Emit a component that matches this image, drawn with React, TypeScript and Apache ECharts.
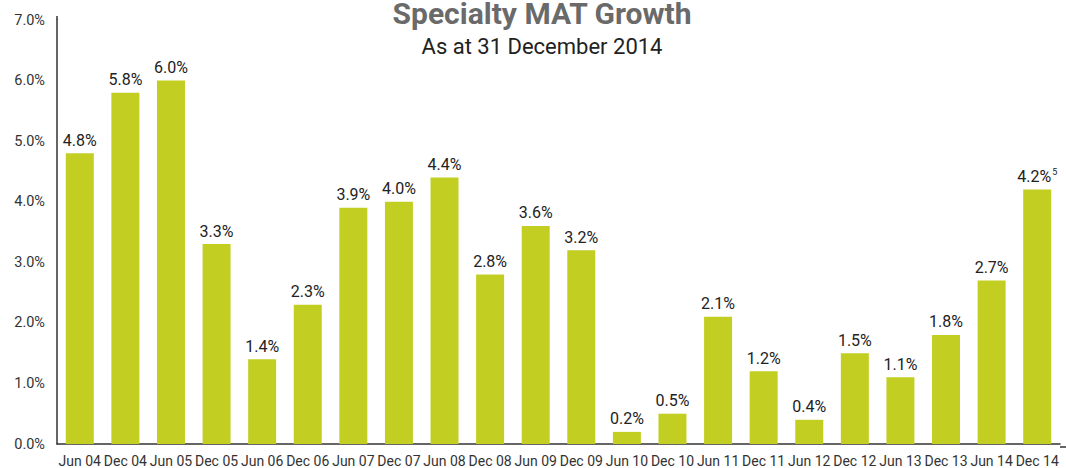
import React, { useEffect, useRef } from "react";
import * as echarts from "echarts";

const categories = [
  "Jun 04", "Dec 04", "Jun 05", "Dec 05", "Jun 06", "Dec 06", "Jun 07", "Dec 07",
  "Jun 08", "Dec 08", "Jun 09", "Dec 09", "Jun 10", "Dec 10", "Jun 11", "Dec 11",
  "Jun 12", "Dec 12", "Jun 13", "Dec 13", "Jun 14", "Dec 14",
];
const growth = [4.8, 5.8, 6.0, 3.3, 1.4, 2.3, 3.9, 4.0, 4.4, 2.8, 3.6, 3.2, 0.2, 0.5, 2.1, 1.2, 0.4, 1.5, 1.1, 1.8, 2.7, 4.2];
const footnotes: Record<number, string> = { 21: "5" };
const yTicks = [0, 1, 2, 3, 4, 5, 6, 7];
const titleText = "Specialty MAT Growth";
const subtitleText = "As at 31 December 2014";

const FONT = "Roboto, 'DejaVu Sans', sans-serif";

export default function App() {
  const ref = useRef<HTMLDivElement>(null);
  useEffect(() => {
    if (!ref.current) return;
    const chart = echarts.init(ref.current, null, { renderer: "svg" });
    chart.setOption({
      animation: false,
      textStyle: { fontFamily: FONT },
      grid: { left: 57, right: 6, top: 20, bottom: 21, containLabel: false },
      xAxis: {
        type: "category",
        data: categories,
        axisLine: { lineStyle: { color: "#333", width: 1.5 } },
        axisTick: { show: false },
        axisLabel: { color: "#333", fontSize: 14, margin: 10, interval: 0, fontFamily: FONT },
      },
      yAxis: {
        type: "value",
        min: yTicks[0],
        max: yTicks[yTicks.length - 1],
        interval: 1,
        axisLine: { show: true, lineStyle: { color: "#333", width: 1.5 } },
        axisTick: { show: false },
        splitLine: { show: false },
        axisLabel: {
          color: "#333",
          fontSize: 14.5,
          margin: 12,
          fontFamily: FONT,
          formatter: (v: number) => v.toFixed(1) + "%",
        },
      },
      series: [
        {
          type: "bar",
          data: growth,
          barWidth: 28,
          itemStyle: { color: "#c2cf22" },
          label: {
            show: true,
            position: "top",
            distance: 5,
            color: "#222",
            fontSize: 16,
            fontFamily: FONT,
            formatter: (p: any) => {
              const fn = footnotes[p.dataIndex];
              const t = (p.value as number).toFixed(1) + "%";
              return fn ? `{a|${t}}{s|${fn}}` : `{a|${t}}`;
            },
            rich: {
              a: { fontSize: 16, color: "#222", fontFamily: FONT },
              s: { fontSize: 9, color: "#222", fontFamily: FONT, verticalAlign: "top", padding: [0, 0, 8, 1] },
            },
          },
        },
      ],
      graphic: [
        {
          type: "text",
          x: 542,
          y: 13,
          style: {
            text: titleText,
            fontSize: 30,
            fontWeight: "bold",
            fill: "#6a6a6a",
            fontFamily: FONT,
            textAlign: "center",
            textVerticalAlign: "middle",
          },
        },
        {
          type: "text",
          x: 542,
          y: 46,
          style: {
            text: subtitleText,
            fontSize: 22,
            fontWeight: "normal",
            fill: "#222",
            fontFamily: FONT,
            textAlign: "center",
            textVerticalAlign: "middle",
          },
        },
        { type: "line", shape: { x1: 57, y1: 16, x2: 57, y2: 20 }, style: { stroke: "#333", lineWidth: 1.5 } },
        { type: "line", shape: { x1: 1060, y1: 447, x2: 1066, y2: 447 }, style: { stroke: "#333", lineWidth: 1.5 } },
      ],
    });
    return () => chart.dispose();
  }, []);
  return (
    <div
      ref={ref}
      style={{ position: "fixed", left: 0, top: 0, width: 1066, height: 468, background: "#fff" }}
    />
  );
}
